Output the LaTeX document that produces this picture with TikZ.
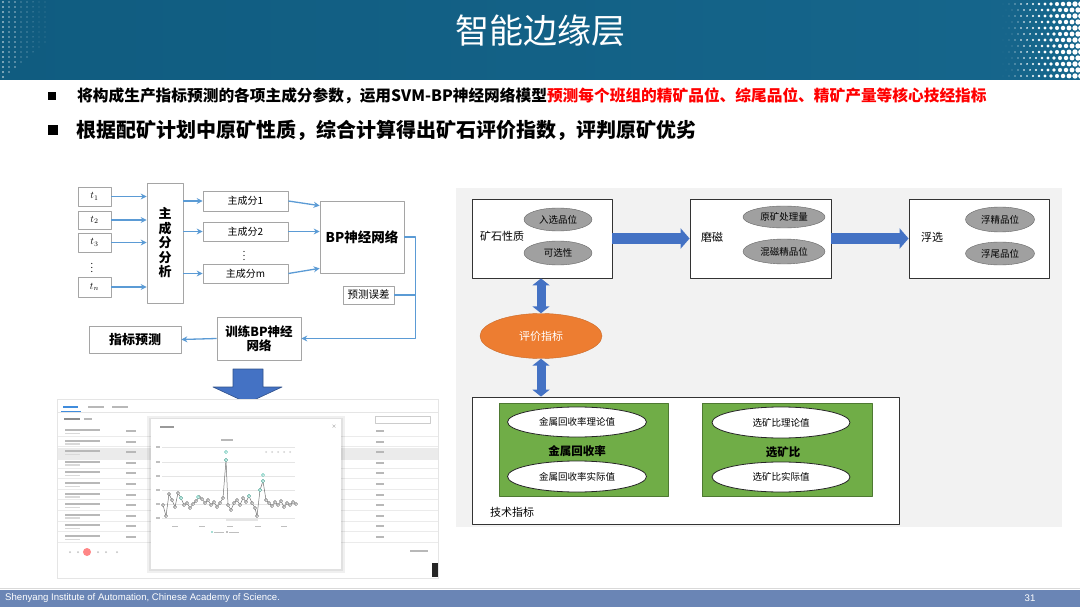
\documentclass[tikz,border=0pt]{standalone}
\usepackage{fontspec}
\setmainfont{Noto Sans CJK SC}
\newfontfamily\footfont{Liberation Sans}
\usetikzlibrary{arrows.meta,shapes.geometric,positioning}
\definecolor{titleblue}{RGB}{16,92,128}
\definecolor{titleblue2}{RGB}{22,102,140}
\definecolor{footblue}{RGB}{106,133,181}
\definecolor{flowblue}{RGB}{91,155,213}
\definecolor{boxgray}{RGB}{165,165,165}
\definecolor{bigblue}{RGB}{68,114,196}
\definecolor{panelgray}{RGB}{242,242,242}
\definecolor{ellgray}{RGB}{160,160,160}
\definecolor{evalorange}{RGB}{237,125,49}
\definecolor{techgreen}{RGB}{112,173,71}
\definecolor{tabblue}{RGB}{64,140,220}
\definecolor{chartteal}{RGB}{80,190,170}
\newcommand\fsz[2]{\fontsize{#1}{#2}\selectfont}

\begin{document}
\begin{tikzpicture}[x=1pt,y=-1pt,line join=round,>=Stealth]
\tikzset{
  box/.style={draw=boxgray,fill=white,inner sep=0pt,line width=0.7pt},
  flow/.style={-{Stealth[length=6pt,width=6pt]},draw=flowblue,line width=1.3pt},
  fline/.style={draw=flowblue,line width=1.3pt},
  stagebox/.style={draw=black!80,fill=white,inner sep=0pt,line width=0.8pt},
  grayell/.style={ellipse,draw=black!60,fill=ellgray,inner sep=0pt,font=\fsz{9.5}{11}},
  whiteell/.style={ellipse,draw=black!85,fill=white,inner sep=0pt,line width=0.8pt,font=\fsz{9.5}{11}},
  greenbox/.style={draw=techgreen!70!black,fill=techgreen,inner sep=0pt,line width=0.6pt},
  blockarrow/.style={-{Triangle[length=9pt,width=20pt]},draw=bigblue,line width=11pt},
  dblarrow/.style={{Triangle[length=7pt,width=17pt]}-{Triangle[length=7pt,width=17pt]},draw=bigblue,line width=9pt},
  vdot/.style={inner sep=0pt,font=\fsz{9}{9}},
  bar/.style={fill=black!28}
}
\useasboundingbox (0,0) rectangle (1080,607);
\fill[white] (0,0) rectangle (1080,607);

% title bar
\shade[left color=titleblue,right color=titleblue2] (0,0) rectangle (1080,80);
\foreach \i in {0,...,7} {
  \pgfmathtruncatemacro\jmax{15-\i}
  \foreach \j in {0,...,\jmax}
    \fill[white,opacity=0.6] ({3+6*\i},{2+5*\j}) circle ({1.1-0.12*\i});
}
\foreach \i in {0,...,13}
  \foreach \j in {0,...,12}
    \fill[white] ({1003+6*\i+3*mod(\j,2)},{4+6*\j}) circle ({0.15+0.21*\i});
\node[text=white,font=\fsz{34}{40}] (title) at (540,31) {智能边缘层};

% bullets
\fill (48,92) rectangle (56,100);
\node[anchor=west,inner sep=0pt,font=\bfseries\fsz{15.7}{18}] (bul1) at (77,96)
  {将构成生产指标预测的各项主成分参数，运用SVM-BP神经网络模型\textcolor{red}{预测每个班组的精矿品位、综尾品位、精矿产量等核心技经指标}};
\fill (48,125) rectangle (58,135);
\node[anchor=west,inner sep=0pt,font=\bfseries\fsz{20}{24}] (bul2) at (76,130)
  {根据配矿计划中原矿性质，综合计算得出矿石评价指数，评判原矿优劣};

% left flow chart
\node[box,minimum width=33,minimum height=19] (t1) at (94.5,196.5) {$t_1$};
\node[box,minimum width=33,minimum height=18] (t2) at (94.5,220) {$t_2$};
\node[box,minimum width=33,minimum height=19] (t3) at (94.5,242.5) {$t_3$};
\node[vdot] (tdots) at (92,265) {$\vdots$};
\node[box,minimum width=33,minimum height=20] (tn) at (94.5,287) {$t_n$};
\node[box,minimum width=36,minimum height=120,align=center,font=\bfseries\fsz{13}{14.5}] (pca) at (165,243) {主\\成\\分\\分\\析};
\node[box,minimum width=85,minimum height=20,font=\fsz{10}{12}] (pc1) at (245.5,201) {主成分1};
\node[box,minimum width=85,minimum height=19,font=\fsz{10}{12}] (pc2) at (245.5,231.5) {主成分2};
\node[vdot] (pcdots) at (244,253) {$\vdots$};
\node[box,minimum width=85,minimum height=19,font=\fsz{10}{12}] (pcm) at (245.5,273.5) {主成分m};
\node[box,minimum width=84,minimum height=72,font=\bfseries\fsz{13.5}{16}] (bp) at (362,237) {BP神经网络};
\node[box,minimum width=51,minimum height=18,font=\fsz{10.5}{12}] (err) at (368.5,295) {预测误差};
\node[box,minimum width=84,minimum height=43,align=center,font=\bfseries\fsz{12.5}{14}] (train) at (259,338.5) {训练BP神经\\网络};
\node[box,minimum width=92,minimum height=27,font=\bfseries\fsz{13}{15}] (pred) at (135,339.5) {指标预测};
\foreach \n in {t1,t2,t3,tn}
  \draw[flow] (\n.east) -- (\n.east -| pca.west);
\foreach \n in {pc1,pc2,pcm}
  \draw[flow] (pca.east |- \n) -- (\n.west);
\draw[flow] (pc1.east) -- ([yshift=-5pt]bp.north west);
\draw[flow] (pc2.east) -- (pc2.east -| bp.west);
\draw[flow] (pcm.east) -- ([yshift=5pt]bp.south west);
\draw[flow] (bp.east) -- ++(11,0) |- (train.east);
\draw[fline] (err.east) -- ++(21,0);
\draw[flow] (train.west) -- (pred.east);

% big arrow down
\filldraw[fill=bigblue,draw=bigblue!70!black,line width=0.6pt]
  (233,369) -- (263,369) -- (263,387) -- (282,387) -- (247.5,403) -- (213,387) -- (233,387) -- cycle;

% screenshot of the prediction page
\fill[black!10] (57,399) rectangle (439,579);
\fill[white] (58,400) rectangle (438,578);
\fill[tabblue] (63,406) rectangle (78,408);
\draw[tabblue,line width=0.8pt] (61,411) -- (81,411);
\fill[bar] (88,406) rectangle (104,408);
\fill[bar] (112,406) rectangle (128,408);
\draw[black!10] (58,412) -- (438,412);
\fill[black!45] (64,418) rectangle (80,420);
\fill[bar] (84,418) rectangle (92,420);
\draw[black!20] (375,416) rectangle (430,423);
\fill[black!8] (58,448) rectangle (438,460);
\foreach \k in {0,...,10} {
  \pgfmathsetmacro\yy{431+10.6*\k}
  \draw[black!8] (58,\yy+5) -- (438,\yy+5);
  \fill[bar] (65,\yy-2) rectangle (100,\yy);
  \fill[black!15] (65,\yy+1.5) rectangle (80,\yy+3);
  \fill[bar] (126,\yy-1) rectangle (136,\yy+1);
  \fill[bar] (376,\yy-1) rectangle (384,\yy+1);
}
\fill[pink!70!red] (87,552) circle (4);
\foreach \px in {70,78,98,106,117}
  \fill[black!25] (\px,552) circle (1);
\fill[bar] (410,550) rectangle (428,552);
\fill[black!85] (432,563) rectangle (438,577);
% chart popup
\fill[black,opacity=0.06] (147,416) rectangle (345,573);
\fill[black,opacity=0.06] (149,418) rectangle (343,571);
\fill[white] (151,419) rectangle (341,569);
\fill[black!40] (160,426) rectangle (174,428);
\node[font=\fsz{5}{6},text=black!50,inner sep=0pt] (close) at (334,427) {×};
\fill[bar] (221,439) rectangle (233,441);
\foreach \px in {266,272,278,284,290}
  \fill[black!18] (\px,452) circle (1);
\foreach \gy in {447,462,476,490,504,518} {
  \draw[black!10,line width=0.4pt] (162,\gy) -- (295,\gy);
  \fill[black!25] (156,\gy-0.6) rectangle (160,\gy+0.6);
}
\foreach \gx in {175,202,230,258,284}
  \fill[black!25] (\gx-3,525.5) rectangle (\gx+3,526.7);
\fill[black!10] (226,519) rectangle (258,521);
\fill[chartteal] (212,532) circle (0.8);
\fill[black!25] (214,531.5) rectangle (224,532.5);
\fill[black!50] (227,532) circle (0.8);
\fill[black!25] (229,531.5) rectangle (239,532.5);
\draw[black!55,line width=0.5pt,mark=*,mark size=1.6pt,mark options={fill=white,draw=black!60,line width=0.5pt}]
  plot coordinates {(163,505) (166,516) (169,494) (172,500) (175,507) (178,493) (181,498) (184,505)
  (187,503) (190,508) (193,504) (196,501) (199,497) (202,499) (205,503) (208,500) (211,505) (214,502)
  (217,507) (220,503) (223,498) (226,460) (228,505) (231,510) (234,503) (237,500) (240,505) (243,498)
  (246,502) (249,496) (252,503) (255,508) (257,516) (260,490) (263,481) (266,500) (269,503) (272,506)
  (275,502) (278,505) (281,501) (284,507) (287,503) (290,505) (293,502) (296,504)};
\foreach \cx/\cy in {226/460,226/452,263/481,263/475,181/498,198/497,249/496,260/490}
  \draw[chartteal,fill=white,line width=0.5pt] (\cx,\cy) circle (1.6);

% right panel
\fill[panelgray] (456,188) rectangle (1062,527);
\node[stagebox,minimum width=140,minimum height=79] (ore) at (542,238.5) {};
\node[font=\fsz{11}{13},inner sep=0pt] (orelbl) at (502,236) {矿石性质};
\node[grayell,minimum width=68,minimum height=23] (ore1) at (558,219.5) {入选品位};
\node[grayell,minimum width=68,minimum height=24] (ore2) at (558,253) {可选性};
\node[stagebox,minimum width=141,minimum height=79] (mill) at (760.5,238.5) {};
\node[font=\fsz{11}{13},inner sep=0pt] (milllbl) at (712,237) {磨磁};
\node[grayell,minimum width=82,minimum height=22] (mill1) at (784,217) {原矿处理量};
\node[grayell,minimum width=82,minimum height=25] (mill2) at (784,251.5) {混磁精品位};
\node[stagebox,minimum width=140,minimum height=79] (flot) at (979,238.5) {};
\node[font=\fsz{11}{13},inner sep=0pt] (flotlbl) at (932,237) {浮选};
\node[grayell,minimum width=69,minimum height=25] (flot1) at (1000,219.5) {浮精品位};
\node[grayell,minimum width=69,minimum height=23] (flot2) at (1000,253.5) {浮尾品位};
\draw[blockarrow] (ore.east) -- (mill.west);
\draw[blockarrow] (mill.east) -- (flot.west);
\node[ellipse,fill=evalorange,draw=evalorange!85!black,text=white,inner sep=0pt,
  minimum width=122,minimum height=45,font=\fsz{11}{13}] (eval) at (541,336) {评价指标};
\node[stagebox,minimum width=427,minimum height=127] (tech) at (685.5,460.5) {};
\node[font=\fsz{11}{13},inner sep=0pt] (techlbl) at (512,512) {技术指标};
\draw[dblarrow] (eval.north |- ore.south) -- (eval.north);
\draw[dblarrow] (eval.south) -- (eval.south |- tech.north);
\node[greenbox,minimum width=169,minimum height=93] (rec) at (583.5,449.5) {};
\node[whiteell,minimum width=139,minimum height=30] (rec1) at (577,422) {金属回收率理论值};
\node[font=\bfseries\fsz{11.5}{13},inner sep=0pt] (reclbl) at (577,451) {金属回收率};
\node[whiteell,minimum width=139,minimum height=31] (rec2) at (577,476.5) {金属回收率实际值};
\node[greenbox,minimum width=170,minimum height=93] (ratio) at (787,450) {};
\node[whiteell,minimum width=138,minimum height=31] (ratio1) at (781,422.5) {选矿比理论值};
\node[font=\bfseries\fsz{11.5}{13},inner sep=0pt] (ratiolbl) at (783,452) {选矿比};
\node[whiteell,minimum width=138,minimum height=30] (ratio2) at (781,477) {选矿比实际值};

% footer
\draw[black!15,line width=1pt] (0,588.5) -- (1080,588.5);
\fill[footblue] (0,590) rectangle (1080,607);
\node[anchor=west,text=white,inner sep=0pt,font=\footfont\fsz{9.6}{11}] (foot) at (5,598.5)
  {Shenyang Institute of Automation, Chinese Academy of Science.};
\node[text=white,inner sep=0pt,font=\footfont\fsz{9.6}{11}] (page) at (1030,598.5) {31};
\end{tikzpicture}
\end{document}
